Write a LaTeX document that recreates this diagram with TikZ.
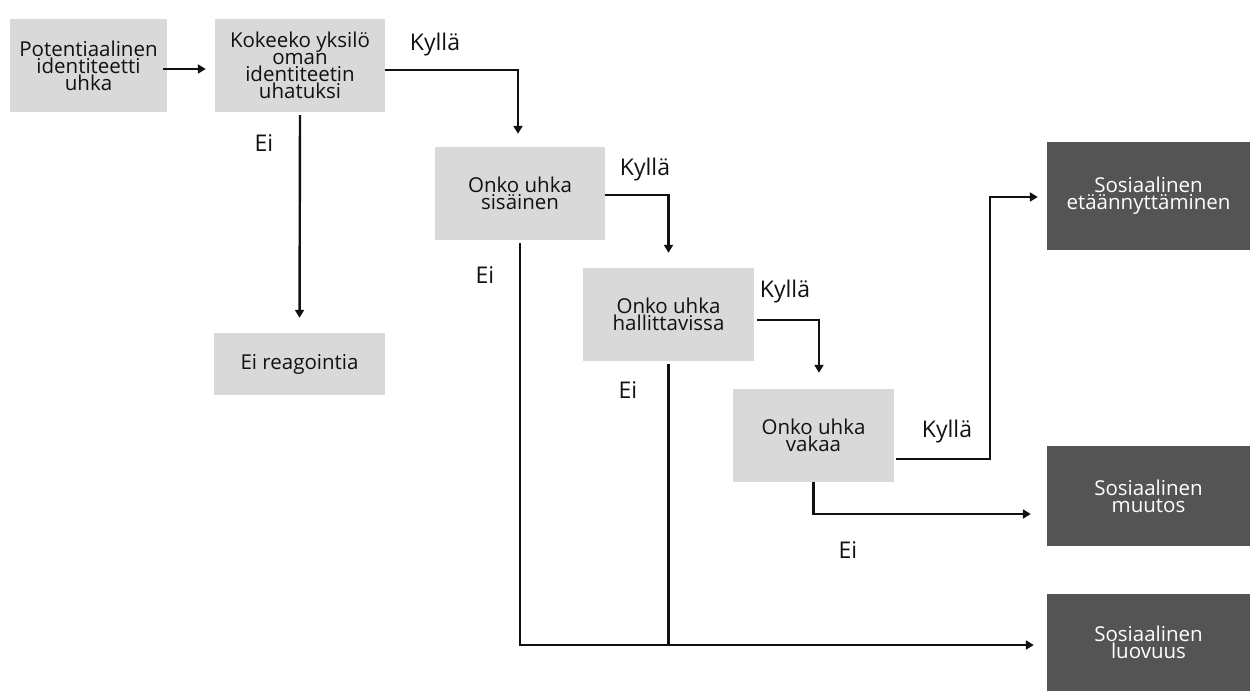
\documentclass[tikz,border=0pt]{standalone}
\usepackage{fontspec}
\setmainfont{Open Sans}
\usetikzlibrary{arrows.meta,calc}
\definecolor{boxgray}{HTML}{D9D9D9}
\definecolor{darkbox}{HTML}{545454}
\definecolor{txt}{HTML}{111111}
\begin{document}
\begin{tikzpicture}[x=1pt,y=-1pt,
  qbox/.style={fill=boxgray,draw=none,inner sep=0pt,align=center,text=txt,
    font=\fontsize{20.5}{17}\selectfont,minimum height=93pt},
  obox/.style={fill=darkbox,draw=none,inner sep=0pt,align=center,text=white,
    font=\fontsize{20.5}{17}\selectfont,minimum width=203pt},
  lbl/.style={font=\fontsize{23}{23}\selectfont,text=txt,inner sep=0pt},
  conn/.style={line width=2.4pt,draw=txt},
  arr/.style={conn,-{Triangle[length=8pt,width=9pt]}}]
\useasboundingbox (0,0) rectangle (1250,691);
\fill[white] (0,0) rectangle (1250,691);

\node[qbox,minimum width=157pt] (b1) at (88.5,65.5) {Potentiaalinen\\identiteetti\\uhka};
\node[qbox,minimum width=170pt] (b2) at (300,65.5) {Kokeeko yksilö\\oman\\identiteetin\\uhatuksi};
\node[qbox,minimum width=171pt,minimum height=62pt] (r0) at (299.5,364) {Ei reagointia};
\node[qbox,minimum width=170pt] (b3) at (520,193.5) {Onko uhka\\sisäinen};
\node[qbox,minimum width=171pt] (b4) at (668.5,314.5) {Onko uhka\\hallittavissa};
\node[qbox,minimum width=161pt] (b5) at (813.5,435.5) {Onko uhka\\vakaa};
\node[obox,minimum height=108pt] (d1) at (1148.5,196) {Sosiaalinen\\etäännyttäminen};
\node[obox,minimum height=100pt] (d2) at (1148.5,496) {Sosiaalinen\\muutos};
\node[obox,minimum height=97pt] (d3) at (1148.5,642.5) {Sosiaalinen\\luovuus};

\coordinate (bus) at (0,645);
\coordinate (k) at (990,197);

\draw[arr,shorten <=-4pt,shorten >=9pt] ([yshift=-3.5pt]b1.east) -- ([yshift=-3.5pt]b2.west |- b1.east);
\draw[arr,shorten >=13pt] ([yshift=-4.5pt]b2.east) -| ([xshift=-2pt]b3.north);
\draw[arr,shorten <=3pt,shorten >=15pt] (b2.south) -- (r0.north);
\draw[arr,shorten >=15pt] ([yshift=-1.5pt]b3.east) -| (b4.north);
\draw[arr,shorten <=3pt,shorten >=13pt] (b3.south) |- (bus -| d3.west);
\draw[conn,shorten <=3pt] (b4.south) -- (b4.south |- bus);
\draw[arr,shorten <=3pt,shorten >=16pt] ([yshift=-5.5pt]b4.east) -| ([xshift=5.5pt]b5.north);
\draw[arr,shorten <=2pt,shorten >=9pt] ([yshift=-23.5pt]b5.east) -| (k) -- (k -| d1.west);
\draw[arr,shorten >=16pt] (b5.south) |- ([yshift=-18pt]d2.west);

\node[lbl] (k1) at (435,45) {Kyllä};
\node[lbl] (k2) at (645,170) {Kyllä};
\node[lbl] (k3) at (785,292) {Kyllä};
\node[lbl] (k4) at (947,432) {Kyllä};
\node[lbl] (e1) at (264,143) {Ei};
\node[lbl] (e2) at (485,275) {Ei};
\node[lbl] (e3) at (628,390) {Ei};
\node[lbl] (e4) at (848,550) {Ei};
\end{tikzpicture}
\end{document}
